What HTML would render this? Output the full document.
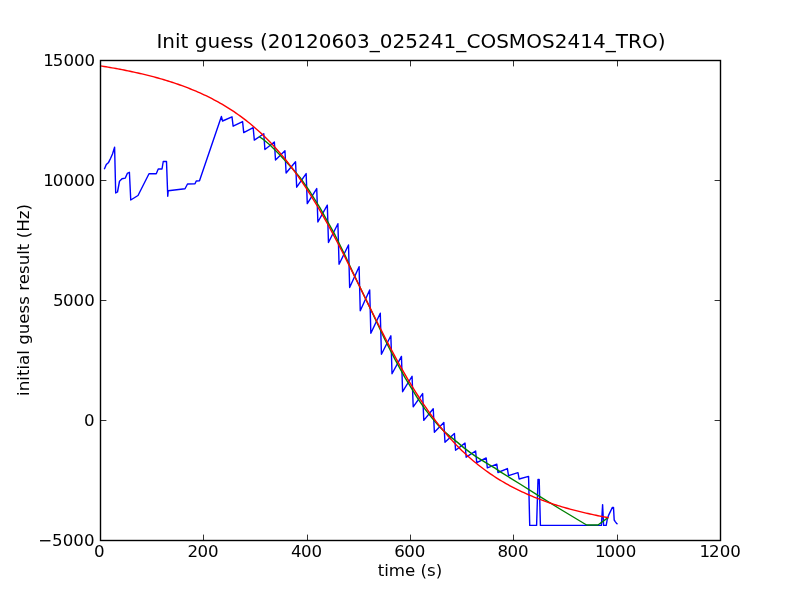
<!DOCTYPE html>
<html><head><meta charset="utf-8"><title>Init guess</title>
<style>
html,body{margin:0;padding:0;background:#fff;}
body{width:800px;height:600px;overflow:hidden;}
svg{display:block;}
text{font-family:"DejaVu Sans","Liberation Sans",sans-serif;fill:#000;}
</style></head><body>
<svg width="800" height="600" viewBox="0 0 800 600">
<rect x="0" y="0" width="800" height="600" fill="#fff"/>
<g fill="none" stroke-width="1.4" stroke-linejoin="round" stroke-linecap="butt">
<polyline stroke="#0000ff" points="104.30,169.30 106.30,164.50 108.60,162.40 110.50,158.50 112.50,154.00 114.60,147.20 115.70,193.00 117.50,192.00 119.50,181.25 122.00,178.75 125.30,178.10 127.30,173.40 129.40,172.25 130.75,200.00 138.00,195.50 149.00,173.75 156.25,173.75 158.25,169.00 162.00,169.00 163.25,161.50 166.50,161.50 167.75,196.25 168.25,190.75 185.00,188.75 187.50,184.00 195.00,183.75 196.25,181.00 199.50,180.75 221.40,116.50 222.55,121.00 231.99,116.80 233.14,126.20 242.58,121.60 243.73,132.60 253.18,127.70 254.33,140.10 263.77,133.75 264.92,149.50 274.36,142.00 275.51,160.00 284.95,150.75 286.10,173.00 295.54,161.70 296.69,187.20 306.14,173.60 307.29,203.60 316.73,188.60 317.88,222.00 327.32,205.20 328.47,242.50 337.91,223.75 339.06,264.25 348.50,245.00 349.65,287.50 359.10,266.75 360.25,310.75 369.69,290.00 370.84,333.25 380.28,313.25 381.43,354.30 390.87,335.75 392.02,373.75 401.46,356.40 402.61,391.70 412.06,376.25 413.21,406.80 422.65,393.60 423.80,420.40 433.24,408.70 434.39,432.30 443.83,422.40 444.98,442.30 454.42,433.40 455.57,450.20 465.02,443.10 466.17,457.20 475.61,451.00 476.76,462.70 486.20,458.00 487.35,467.80 496.79,464.10 497.94,472.50 507.38,468.60 508.53,475.60 517.98,472.60 519.13,479.00 528.57,476.40 529.72,525.40 536.60,525.40 538.00,479.40 539.20,479.40 540.40,525.40 601.40,525.40 602.60,504.60 603.60,525.40 606.20,525.40 607.40,518.50 608.90,514.60 612.40,507.40 613.50,507.40 614.20,520.00 615.25,521.60 616.75,523.60 617.70,523.90"/>
<polyline stroke="#008000" points="259.00,136.54 264.00,139.93 270.00,145.04 280.00,155.04 288.00,163.68 293.00,169.31 300.00,177.44 310.00,191.75 320.00,207.85 335.00,234.96 345.00,255.32 352.00,270.59 360.00,287.31 370.00,307.97 377.00,322.77 385.00,339.76 395.00,359.44 405.00,377.63 417.50,398.07 425.00,409.06 432.50,418.65 438.00,424.94 443.75,431.01 450.00,436.40 457.50,442.42 464.00,447.84 470.00,452.39 476.00,456.56 482.50,460.66 489.00,464.57 495.00,468.09 500.00,471.60 520.00,484.00 540.00,496.60 560.00,509.00 586.60,525.00 598.00,525.00 608.00,517.60"/>
<polyline stroke="#ff0000" points="100.00,65.85 102.00,66.17 104.00,66.49 106.00,66.81 108.00,67.15 110.00,67.49 112.00,67.83 114.00,68.18 116.00,68.54 118.00,68.91 120.00,69.28 122.00,69.66 124.00,70.05 126.00,70.45 128.00,70.85 130.00,71.27 132.00,71.69 134.00,72.12 136.00,72.56 138.00,73.00 140.00,73.46 142.00,73.93 144.00,74.40 146.00,74.89 148.00,75.38 150.00,75.89 152.00,76.41 154.00,76.94 156.00,77.48 158.00,78.03 160.00,78.59 162.00,79.17 164.00,79.76 166.00,80.36 168.00,80.98 170.00,81.60 172.00,82.25 174.00,82.90 176.00,83.58 178.00,84.26 180.00,84.97 182.00,85.68 184.00,86.42 186.00,87.17 188.00,87.94 190.00,88.73 192.00,89.54 194.00,90.36 196.00,91.20 198.00,92.07 200.00,92.95 202.00,93.86 204.00,94.78 206.00,95.73 208.00,96.71 210.00,97.70 212.00,98.72 214.00,99.76 216.00,100.83 218.00,101.93 220.00,103.05 222.00,104.20 224.00,105.37 226.00,106.58 228.00,107.81 230.00,109.08 232.00,110.37 234.00,111.70 236.00,113.06 238.00,114.46 240.00,115.89 242.00,117.35 244.00,118.85 246.00,120.39 248.00,121.96 250.00,123.58 252.00,125.23 254.00,126.93 256.00,128.66 258.00,130.44 260.00,132.26 262.00,134.12 264.00,136.03 266.00,137.99 268.00,139.99 270.00,142.04 272.00,144.14 274.00,146.29 276.00,148.49 278.00,150.74 280.00,153.04 282.00,155.40 284.00,157.80 286.00,160.27 288.00,162.78 290.00,165.35 292.00,167.98 294.00,170.66 296.00,173.40 298.00,176.19 300.00,179.04 302.00,181.95 304.00,184.92 306.00,187.94 308.00,191.02 310.00,194.15 312.00,197.34 314.00,200.59 316.00,203.89 318.00,207.24 320.00,210.65 322.00,214.11 324.00,217.62 326.00,221.17 328.00,224.78 330.00,228.43 332.00,232.13 334.00,235.87 336.00,239.66 338.00,243.48 340.00,247.33 342.00,251.22 344.00,255.14 346.00,259.09 348.00,263.07 350.00,267.07 352.00,271.09 354.00,275.13 356.00,279.18 358.00,283.24 360.00,287.31 362.00,291.39 364.00,295.46 366.00,299.54 368.00,303.61 370.00,307.67 372.00,311.72 374.00,315.75 376.00,319.77 378.00,323.77 380.00,327.74 382.00,331.69 384.00,335.61 386.00,339.50 388.00,343.35 390.00,347.17 392.00,350.95 394.00,354.68 396.00,358.38 398.00,362.03 400.00,365.63 402.00,369.19 404.00,372.69 406.00,376.15 408.00,379.55 410.00,382.90 412.00,386.19 414.00,389.43 416.00,392.62 418.00,395.75 420.00,398.82 422.00,401.84 424.00,404.80 426.00,407.70 428.00,410.55 430.00,413.34 432.00,416.07 434.00,418.75 436.00,421.37 438.00,423.94 440.00,426.45 442.00,428.91 444.00,431.31 446.00,433.66 448.00,435.96 450.00,438.20 452.00,440.40 454.00,442.54 456.00,444.64 458.00,446.68 460.00,448.68 462.00,450.63 464.00,452.54 466.00,454.40 468.00,456.22 470.00,457.99 472.00,459.72 474.00,461.41 476.00,463.06 478.00,464.68 480.00,466.25 482.00,467.78 484.00,469.28 486.00,470.74 488.00,472.17 490.00,473.56 492.00,474.92 494.00,476.24 496.00,477.54 498.00,478.80 500.00,480.03 502.00,481.23 504.00,482.41 506.00,483.55 508.00,484.67 510.00,485.77 512.00,486.83 514.00,487.87 516.00,488.89 518.00,489.88 520.00,490.85 522.00,491.80 524.00,492.73 526.00,493.63 528.00,494.51 530.00,495.37 532.00,496.22 534.00,497.04 536.00,497.84 538.00,498.63 540.00,499.40 542.00,500.15 544.00,500.88 546.00,501.60 548.00,502.30 550.00,502.99 552.00,503.66 554.00,504.32 556.00,504.96 558.00,505.58 560.00,506.20 562.00,506.80 564.00,507.39 566.00,507.96 568.00,508.52 570.00,509.08 572.00,509.61 574.00,510.14 576.00,510.66 578.00,511.17 580.00,511.66 582.00,512.15 584.00,512.62 586.00,513.09 588.00,513.54 590.00,513.99 592.00,514.43 594.00,514.86 596.00,515.28 598.00,515.69 600.00,516.09 602.00,516.49 604.00,516.88 606.00,517.26 608.00,517.63 608.60,517.74"/>
</g>
<g stroke="#333" stroke-width="1">
<line x1="100.5" y1="540" x2="100.5" y2="534.6"/><line x1="100.5" y1="61" x2="100.5" y2="66.4"/>
<line x1="203.5" y1="540" x2="203.5" y2="534.6"/><line x1="203.5" y1="61" x2="203.5" y2="66.4"/>
<line x1="307.5" y1="540" x2="307.5" y2="534.6"/><line x1="307.5" y1="61" x2="307.5" y2="66.4"/>
<line x1="410.5" y1="540" x2="410.5" y2="534.6"/><line x1="410.5" y1="61" x2="410.5" y2="66.4"/>
<line x1="513.5" y1="540" x2="513.5" y2="534.6"/><line x1="513.5" y1="61" x2="513.5" y2="66.4"/>
<line x1="617.5" y1="540" x2="617.5" y2="534.6"/><line x1="617.5" y1="61" x2="617.5" y2="66.4"/>
<line x1="720.5" y1="540" x2="720.5" y2="534.6"/><line x1="720.5" y1="61" x2="720.5" y2="66.4"/>
<line x1="101" y1="60.5" x2="106.4" y2="60.5"/><line x1="720" y1="60.5" x2="714.6" y2="60.5"/>
<line x1="101" y1="180.5" x2="106.4" y2="180.5"/><line x1="720" y1="180.5" x2="714.6" y2="180.5"/>
<line x1="101" y1="300.5" x2="106.4" y2="300.5"/><line x1="720" y1="300.5" x2="714.6" y2="300.5"/>
<line x1="101" y1="420.5" x2="106.4" y2="420.5"/><line x1="720" y1="420.5" x2="714.6" y2="420.5"/>
<line x1="101" y1="540.5" x2="106.4" y2="540.5"/><line x1="720" y1="540.5" x2="714.6" y2="540.5"/>
</g>
<g stroke="#000" stroke-width="1.4">
<rect x="100.5" y="60.5" width="620" height="480" fill="none"/>
</g>
<g font-size="16.67px">
<text x="99.2" y="556.5" text-anchor="middle">0</text>
<text x="202.5" y="556.5" text-anchor="middle" dx="0.6 -0.6">200</text>
<text x="305.9" y="556.5" text-anchor="middle" dx="0.6 -0.6">400</text>
<text x="409.2" y="556.5" text-anchor="middle" dx="0.6 -0.6">600</text>
<text x="512.5" y="556.5" text-anchor="middle" dx="0.6 -0.6">800</text>
<text x="614.6" y="556.5" text-anchor="middle" dx="1 -1">1000</text>
<text x="719.2" y="556.5" text-anchor="middle" dx="1 -1">1200</text>
<text x="94.2" y="66.2" text-anchor="end" dx="1 -1">15000</text>
<text x="94.2" y="186.2" text-anchor="end" dx="1 -1">10000</text>
<text x="94.2" y="306.2" text-anchor="end" dx="0.6 -0.6">5000</text>
<text x="94.5" y="426.2" text-anchor="end">0</text>
<text x="94.5" y="546.2" text-anchor="end">−5000</text>
</g>
<text x="156.4" y="47.5" font-size="20px" letter-spacing="0.03">Init guess (20120603_025241_COSMOS2414_TRO)</text>
<text x="410" y="576.3" font-size="16.67px" text-anchor="middle">time (s)</text>
<text transform="translate(29,300) rotate(-90)" font-size="16.67px" text-anchor="middle">initial guess result (Hz)</text>
</svg>
</body></html>
